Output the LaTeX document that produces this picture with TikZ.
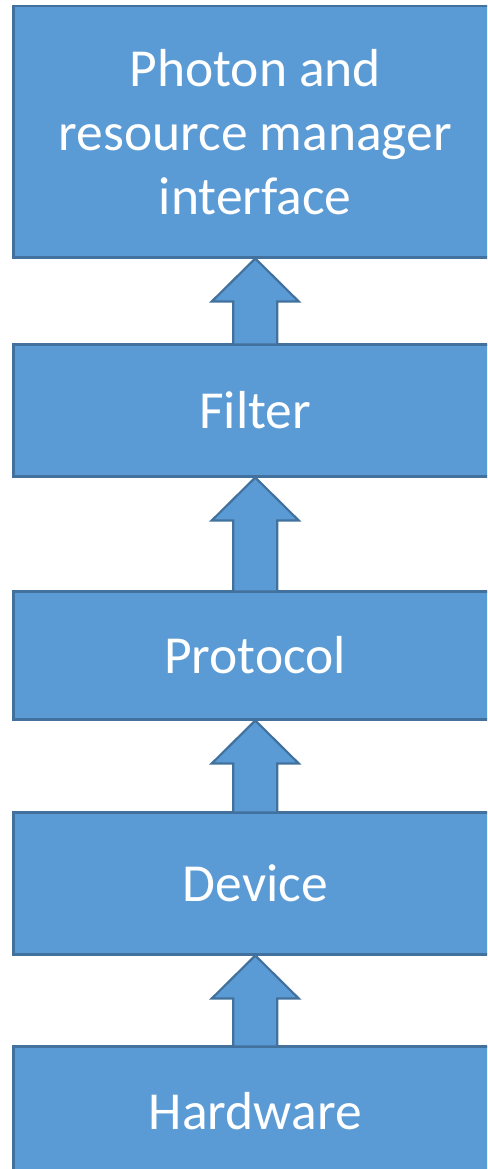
\documentclass[tikz,border=0pt]{standalone}
\usepackage{fontspec}
\setmainfont{Carlito}
\usetikzlibrary{calc}
\definecolor{boxfill}{HTML}{5B9BD5}
\definecolor{boxline}{HTML}{41719C}
% upward block arrow from the top of #1 to the bottom of #2
\newcommand\upblock[2]{%
  \path[blockarrow] let \p1=(#2.south), \p2=(#1.north) in
    (\x1,\y1) -- (\x1+43.5pt,\y1-43pt) -- (\x1+22pt,\y1-43pt)
    -- (\x1+22pt,\y2-1.5pt) -- (\x1-22pt,\y2-1.5pt) -- (\x1-22pt,\y1-43pt)
    -- (\x1-43.5pt,\y1-43pt) -- cycle;}
\begin{document}
\begin{tikzpicture}[x=1pt,y=-1pt,
  layer/.style={draw=boxline, fill=boxfill, line width=2.5pt, rectangle,
    anchor=north west, minimum width=484pt, text=white,
    font=\fontsize{53.5}{64}\selectfont, align=center, inner sep=0pt},
  blockarrow/.style={draw=boxline, fill=boxfill, line width=2.2pt, line join=miter}]
\useasboundingbox (0,0) rectangle (487,1169);
\clip (0,0) rectangle (487,1169);
\node[layer, minimum height=251pt] (iface) at (12,5) {Photon and\\resource manager\\interface};
\node[layer, minimum height=132pt] (filter) at (12,343) {Filter};
\node[layer, minimum height=128pt] (protocol) at (12,590) {Protocol};
\node[layer, minimum height=142pt] (device) at (12,811) {Device};
\node[layer, minimum height=130pt] (hardware) at (12,1045) {Hardware};
\upblock{filter}{iface}
\upblock{protocol}{filter}
\upblock{device}{protocol}
\upblock{hardware}{device}
\end{tikzpicture}
\end{document}
